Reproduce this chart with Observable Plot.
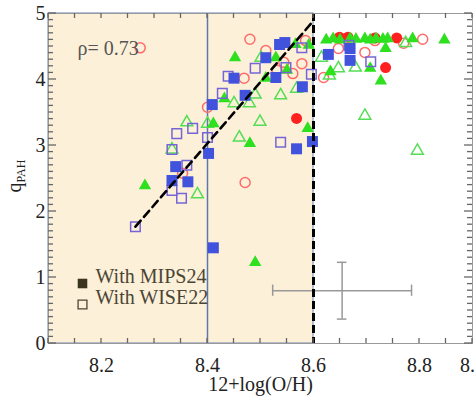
<!DOCTYPE html>
<html><head><meta charset="utf-8">
<script src="https://cdn.jsdelivr.net/npm/d3@7"></script>
<script src="https://cdn.jsdelivr.net/npm/@observablehq/plot@0.6"></script>
<style>body{margin:0;background:#fff}</style>
</head><body><div id="chart"></div>
<script>
// ---- data ----
const mipsX = [8.450, 8.471, 8.409, 8.402, 8.340, 8.333, 8.363, 8.411, 8.546, 8.536, 8.510, 8.529, 8.579, 8.568, 8.598, 8.628, 8.669, 8.669];
const mipsY = [4.02, 3.76, 3.62, 2.88, 2.68, 2.47, 2.45, 1.45, 4.56, 4.53, 4.33, 4.03, 3.89, 2.95, 3.06, 4.38, 4.47, 4.29];
const wiseX = [8.490, 8.439, 8.428, 8.342, 8.372, 8.400, 8.333, 8.361, 8.333, 8.351, 8.264, 8.578, 8.548, 8.596, 8.538, 8.667, 8.708];
const wiseY = [4.17, 4.05, 3.79, 3.18, 3.26, 3.12, 2.94, 2.70, 2.32, 2.20, 1.77, 4.48, 4.18, 4.08, 3.05, 4.52, 4.27];
const redOpenX = [8.273, 8.480, 8.469, 8.400, 8.353, 8.471, 8.585, 8.510, 8.544, 8.578, 8.531, 8.561, 8.716, 8.770, 8.806, 8.647, 8.697, 8.619];
const redOpenY = [4.48, 4.61, 4.02, 3.58, 2.58, 2.44, 4.59, 4.44, 4.26, 4.24, 4.14, 4.09, 4.59, 4.55, 4.61, 4.47, 4.41, 4.03];
const redFillX = [8.568, 8.649, 8.665, 8.716, 8.757, 8.736];
const redFillY = [3.41, 4.64, 4.64, 4.63, 4.63, 4.18];
const greenFillX = [8.452, 8.432, 8.411, 8.282, 8.490, 8.566, 8.529, 8.550, 8.510, 8.589, 8.480, 8.624, 8.637, 8.650, 8.669, 8.680, 8.697, 8.707, 8.718, 8.731, 8.740, 8.787, 8.847, 8.736, 8.632, 8.707, 8.727, 8.591];
const greenFillY = [4.33, 3.71, 3.33, 2.39, 1.23, 4.53, 4.33, 4.14, 4.02, 3.26, 3.03, 4.60, 4.62, 4.60, 4.62, 4.61, 4.62, 4.60, 4.62, 4.61, 4.62, 4.62, 4.60, 4.47, 4.12, 4.17, 3.98, 4.52];
const greenOpenX = [8.450, 8.479, 8.361, 8.400, 8.333, 8.381, 8.501, 8.568, 8.490, 8.538, 8.499, 8.460, 8.774, 8.615, 8.647, 8.679, 8.630, 8.697, 8.796];
const greenOpenY = [3.64, 3.64, 3.35, 3.33, 2.94, 2.26, 4.33, 3.86, 3.77, 3.76, 3.36, 3.12, 4.55, 4.33, 4.17, 4.18, 4.06, 3.45, 2.92];
const fitX = [8.264, 8.600];
const fitY = [1.77, 4.89];
const shadeX = [8.1, 8.6];
const shadeY = [0, 5];
const solidLineX = [8.4];
const dashedLineX = [8.6];
const errCenterX = [8.654];
const errCenterY = [0.80];
const errHalfX = [0.131];
const errHalfY = [0.43];
const xDomain = [8.1, 8.9];
const yDomain = [0, 5];
const xTickLabels = [8.2, 8.4, 8.6, 8.8, 8.9];
const yTickLabels = [0, 1, 2, 3, 4, 5];
const rhoText = ["ρ= 0.73"];
const legendLabels = ["With MIPS24", "With WISE22"];
const xLabel = "12+log(O/H)";

const pts = (xs, ys) => xs.map((x, i) => ({x, y: ys[i]}));
const xMinor = d3.range(0, 17).map(i => +(xDomain[0] + i * 0.05).toFixed(2));
const yMinor = d3.range(0, 51).map(i => +(i * 0.1).toFixed(1));
const err = errCenterX.map((x, i) => ({x, y: errCenterY[i], hx: errHalfX[i], hy: errHalfY[i]}));
const capX = 0.009, capY = 0.085;

const W = 475, H = 402, mL = 48, mR = 3, mT = 13, mB = 59;
const tickCol = "#666";

const chart = Plot.plot({
  width: W, height: H,
  marginLeft: mL, marginRight: mR, marginTop: mT, marginBottom: mB,
  x: {domain: xDomain},
  y: {domain: yDomain},
  style: {fontFamily: "Liberation Serif, Times New Roman, serif", fontSize: "20px", background: "white", color: "#222"},
  marks: [
    Plot.rect([0], {x1: () => shadeX[0], x2: () => shadeX[1], y1: () => shadeY[0], y2: () => shadeY[1], fill: "#fdf0d9", stroke: "#6b84b8", strokeWidth: 1}),
    Plot.ruleX(solidLineX, {x: d => d, stroke: "#5d76ae", strokeWidth: 1.5}),
    // error cross
    Plot.ruleY(err, {y: "y", x1: d => d.x - d.hx, x2: d => d.x + d.hx, stroke: "#999", strokeWidth: 1.5}),
    Plot.ruleX(err, {x: "x", y1: d => d.y - d.hy, y2: d => d.y + d.hy, stroke: "#999", strokeWidth: 1.5}),
    Plot.ruleX(err, {x: d => d.x - d.hx, y1: d => d.y - capY, y2: d => d.y + capY, stroke: "#999", strokeWidth: 1.5}),
    Plot.ruleX(err, {x: d => d.x + d.hx, y1: d => d.y - capY, y2: d => d.y + capY, stroke: "#999", strokeWidth: 1.5}),
    Plot.ruleY(err, {y: d => d.y - d.hy, x1: d => d.x - capX, x2: d => d.x + capX, stroke: "#999", strokeWidth: 1.5}),
    Plot.ruleY(err, {y: d => d.y + d.hy, x1: d => d.x - capX, x2: d => d.x + capX, stroke: "#999", strokeWidth: 1.5}),
    // points
    Plot.dot(pts(redOpenX, redOpenY), {x: "x", y: "y", symbol: "circle", r: 5, stroke: "#ff6b6b", strokeWidth: 1.5, fill: "none"}),
    Plot.dot(pts(redFillX, redFillY), {x: "x", y: "y", symbol: "circle", r: 5.5, fill: "#ff2020"}),
    Plot.dot(pts(greenOpenX, greenOpenY), {x: "x", y: "y", symbol: "triangle", r: 4.4, stroke: "#55dd55", strokeWidth: 1.5, fill: "none"}),
    Plot.dot(pts(greenFillX, greenFillY), {x: "x", y: "y", symbol: "triangle", r: 4.6, fill: "#2ee01e"}),
    Plot.dot(pts(wiseX, wiseY), {x: "x", y: "y", symbol: "square", r: 5.4, stroke: "#7565d6", strokeWidth: 1.5, fill: "none"}),
    Plot.dot(pts(mipsX, mipsY), {x: "x", y: "y", symbol: "square", r: 6.2, fill: "#4152dd"}),
    // lines
    Plot.line(pts(fitX, fitY), {x: "x", y: "y", stroke: "black", strokeWidth: 2.6, strokeDasharray: "8,5"}),
    Plot.ruleX(dashedLineX, {x: d => d, stroke: "black", strokeWidth: 3, strokeDasharray: "8,4"}),
    Plot.frame({stroke: "#999"}),
    // tick labels
    Plot.axisX({anchor: "bottom", ticks: xTickLabels, tickSize: 0, tickPadding: 14, tickFormat: d3.format(".1f"), label: null, fill: "#222"}),
    Plot.axisY({anchor: "left", ticks: yTickLabels, tickSize: 0, tickPadding: 3, tickFormat: d => String(d), label: null, fill: "#222"}),
    Plot.text([xLabel], {text: d => d, frameAnchor: "bottom", dy: 47, fill: "#222"}),
    // annotations
    Plot.text(rhoText, {text: d => d, frameAnchor: "top-left", dx: 29, dy: 27, textAnchor: "start", fill: "#555"}),
    Plot.dot([legendLabels[0]], {frameAnchor: "bottom-left", dx: 34, dy: -60, symbol: "square", r: 5.4, fill: "#3b3520"}),
    Plot.dot([legendLabels[1]], {frameAnchor: "bottom-left", dx: 34, dy: -39, symbol: "square", r: 5, stroke: "#4a4535", strokeWidth: 1.3, fill: "none"}),
    Plot.text([legendLabels[0]], {text: d => d, frameAnchor: "bottom-left", dx: 47, dy: -61, textAnchor: "start", fill: "#4a4535"}),
    Plot.text([legendLabels[1]], {text: d => d, frameAnchor: "bottom-left", dx: 47, dy: -40, textAnchor: "start", fill: "#4a4535"})
  ]
});
document.getElementById("chart").appendChild(chart);

// inward tick marks on all four sides, placed with the plot's own scales
const sx = chart.scale("x"), sy = chart.scale("y");
const svg = d3.select(chart);
const tg = svg.append("g").attr("stroke", tickCol).attr("stroke-width", 1.3).attr("fill", "none");
const [xa, xb] = sx.range, [ya, yb] = sy.range; // ya bottom, yb top
for (const v of xMinor) {
  const px = sx.apply(v);
  tg.append("line").attr("x1", px).attr("x2", px).attr("y1", ya).attr("y2", ya - 5);
  tg.append("line").attr("x1", px).attr("x2", px).attr("y1", yb).attr("y2", yb + 5);
}
for (const v of yMinor) {
  const py = sy.apply(v);
  const len = Number.isInteger(v) ? 8 : 5;
  tg.append("line").attr("y1", py).attr("y2", py).attr("x1", xa).attr("x2", xa + len);
  tg.append("line").attr("y1", py).attr("y2", py).attr("x1", xb).attr("x2", xb - len);
}
// y axis label with subscript
const g = svg.append("g").attr("transform", "translate(21,176) rotate(-90)");
const t = g.append("text").attr("text-anchor", "middle").attr("fill", "#222")
  .style("font-family", "Liberation Serif, serif").style("font-size", "20px");
t.append("tspan").text("q");
t.append("tspan").attr("font-size", "12px").attr("dy", "4").text("PAH");
</script>
</body></html>
